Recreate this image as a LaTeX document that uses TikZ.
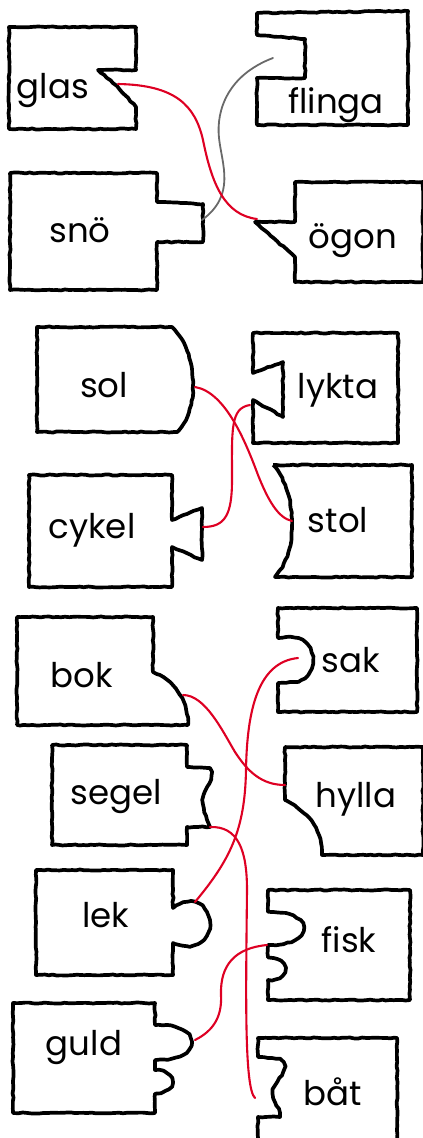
\documentclass[tikz,border=0pt]{standalone}
\usepackage{fontspec}
\setmainfont{Poppins}
\usetikzlibrary{decorations.pathmorphing}
\definecolor{linkred}{RGB}{222,0,35}
\definecolor{linkgray}{RGB}{105,105,105}
\tikzset{
  piece/.style={draw=black, line width=3.7pt, line join=round, fill=white,
    decorate, decoration={random steps, segment length=4pt, amplitude=0.55pt}},
  word/.style={anchor=base, inner sep=0pt, font=\fontsize{34}{40}\selectfont},
  redlink/.style={draw=linkred, line width=2.1pt, line cap=round},
  graylink/.style={draw=linkgray, line width=1.8pt, line cap=round}
}
\begin{document}
\begin{tikzpicture}[x=1pt,y=-1pt]
\pgfmathsetseed{11}
\useasboundingbox (0,0) rectangle (423,1138);
\clip (0,0) rectangle (423,1138);
% ---------- pieces ----------
% glas
\path[piece] (9,27) -- (136,27) -- (136,70) -- (98,70) -- (117,86) -- (136,107) -- (136,129) -- (9,129) -- cycle;
% flinga
\path[piece] (257,13) -- (408,11) -- (408,125) -- (257,125) -- (257,78) -- (305,78) -- (305,39) -- (257,35) -- cycle;
% snoe
\path[piece] (10,173) -- (157,173) -- (157,202) -- (203,204) -- (203,242) -- (157,242) -- (157,290) -- (10,290) -- cycle;
% oegon
\path[piece] (295,182) -- (423,182) -- (423,282) -- (295,282) -- (295,257) -- (255,222) -- (295,222) -- cycle;
% sol
\path[piece] (37,327) -- (172,327) .. controls (185,340) and (193,360) .. (193,385) .. controls (193,405) and (187,422) .. (177,432) -- (37,432) -- cycle;
% lykta
\path[piece] (253,333) -- (398,333) -- (398,443) -- (253,443) -- (253,400) -- (283,417) -- (283,362) -- (253,373) -- cycle;
% cykel
\path[piece] (29,475) -- (172,475) -- (172,520) -- (202,508) -- (202,560) -- (172,547) -- (172,587) -- (29,587) -- cycle;
% stol
\path[piece] (273,465) -- (412,465) -- (412,577) -- (275,577) .. controls (288,562) and (293,540) .. (292,520) .. controls (291,498) and (285,478) .. (273,465) -- cycle;
% bok
\path[piece] (17,617) -- (153,617) -- (153,672) .. controls (172,680) and (188,698) .. (188,725) -- (17,725) -- cycle;
% sak
\path[piece] (278,608) -- (417,608) -- (417,712) -- (278,712) -- (278,683) -- (290,682) .. controls (305,683) and (313,672) .. (313,660) .. controls (313,648) and (305,637) .. (290,637) -- (278,638) -- cycle;
% hylla
\path[piece] (285,747) -- (423,747) -- (423,855) -- (322,855) .. controls (322,830) and (312,815) .. (285,800) -- cycle;
% segel
\path[piece] (52,745) -- (187,745) -- (187,767) -- (210,768) .. controls (216,777) and (203,790) .. (203,800) .. controls (203,812) and (208,822) .. (210,827) -- (187,827) -- (187,845) -- (52,845) -- cycle;
% lek
\path[piece] (36,870) -- (173,870) -- (173,908) .. controls (180,903) and (188,900) .. (195,902) .. controls (205,905) and (210,915) .. (210,925) .. controls (210,937) and (200,947) .. (187,946) .. controls (180,946) and (176,944) .. (173,943) -- (173,975) -- (36,975) -- cycle;
% fisk
\path[piece] (268,890) -- (410,890) -- (410,1000) -- (268,1000) -- (268,980) .. controls (291,981) and (291,958) .. (268,958) -- (268,945) .. controls (315,946) and (316,911) .. (268,912) -- cycle;
% guld
\path[piece] (13,1003) -- (155,1003) -- (155,1025) .. controls (204,1023) and (204,1061) .. (155,1060) -- (155,1070) .. controls (178,1070) and (178,1093) .. (155,1093) -- (155,1113) -- (13,1113) -- cycle;
% baat
\path[piece] (258,1150) -- (258,1117) -- (280,1117) .. controls (280,1108) and (273,1104) .. (273,1093) .. controls (273,1082) and (286,1075) .. (284,1066) .. controls (283,1060) and (281,1058) .. (258,1057) -- (258,1038) -- (397,1038) -- (397,1150);
% ---------- words ----------
\node[word] (glas)   at (53,98)    {glas};
\node[word] (flinga) at (336,113)  {flinga};
\node[word] (sno)    at (80,242)   {snö};
\node[word] (ogon)   at (353,248)  {ögon};
\node[word] (sol)    at (104,397)  {sol};
\node[word] (lykta)  at (338,398)  {lykta};
\node[word] (cykel)  at (92,538)   {cykel};
\node[word] (stol)   at (338,532)  {stol};
\node[word] (bok)    at (82,687)   {bok};
\node[word] (sak)    at (351,672)  {sak};
\node[word] (segel)  at (116,804)  {segel};
\node[word] (hylla)  at (356,807)  {hylla};
\node[word] (lek)    at (106,927)  {lek};
\node[word] (fisk)   at (349,952)  {fisk};
\node[word] (guld)   at (84,1055)  {guld};
\node[word] (baat)   at (333,1105) {båt};
% ---------- connector ends ----------
\coordinate (glasT)   at (118,84);
\coordinate (ogonS)   at (257,219);
\coordinate (flingaS) at (273,58);
\coordinate (snoT)    at (202,220);
\coordinate (solT)    at (195,387);
\coordinate (stolS)   at (292,521);
\coordinate (cykelT)  at (203,527);
\coordinate (lyktaS)  at (250,405);
\coordinate (bokT)    at (183,695);
\coordinate (hyllaS)  at (285,785);
\coordinate (sakS)    at (298,658);
\coordinate (lekT)    at (195,902);
\coordinate (segelT)  at (210,827);
\coordinate (baatS)   at (255,1098);
\coordinate (guldT)   at (195,1040);
\coordinate (fiskS)   at (267,945);
% ---------- connectors ----------
\draw[graylink] (flingaS) .. controls (228,75) and (216,110) .. (219,138) .. controls (222,165) and (236,195) .. (snoT);
\draw[redlink] (glasT) .. controls (175,85) and (195,105) .. (203,140) .. controls (212,185) and (225,215) .. (ogonS);
\draw[redlink] (solT) .. controls (225,392) and (245,440) .. (258,475) .. controls (268,500) and (278,518) .. (stolS);
\draw[redlink] (cykelT) .. controls (225,527) and (232,515) .. (232,480) .. controls (232,430) and (230,408) .. (lyktaS);
\draw[redlink] (bokT) .. controls (205,695) and (222,730) .. (235,752) .. controls (248,772) and (262,785) .. (hyllaS);
\draw[redlink] (sakS) .. controls (258,662) and (247,710) .. (246,770) .. controls (245,830) and (230,860) .. (lekT);
\draw[redlink] (segelT) .. controls (238,826) and (247,850) .. (247,890) .. controls (246,990) and (244,1088) .. (baatS);
\draw[redlink] (guldT) .. controls (215,1030) and (222,1015) .. (221,995) .. controls (220,965) and (235,948) .. (fiskS);
\end{tikzpicture}
\end{document}
